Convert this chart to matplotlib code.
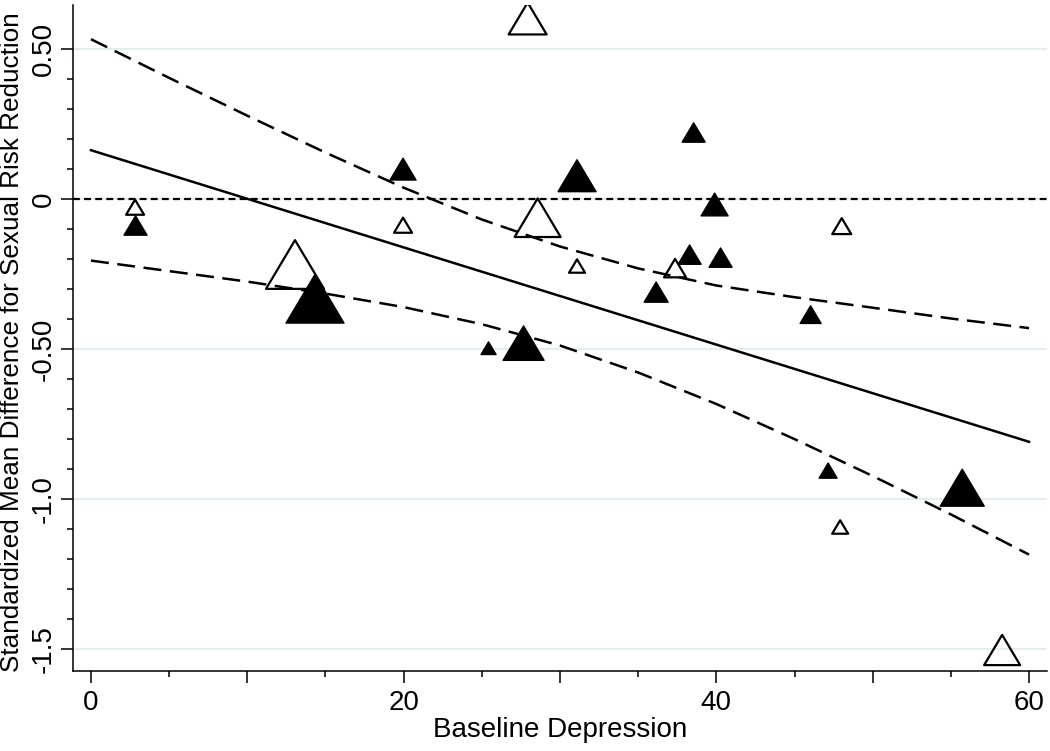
import numpy as np
import matplotlib.pyplot as plt
from matplotlib.path import Path
from matplotlib.ticker import FixedLocator, MultipleLocator

plt.rcParams["font.family"] = ["Liberation Sans", "DejaVu Sans"]

# ---------------------------------------------------------------------------
# Study-level data
# x = baseline depression, y = standardized mean difference, w = study weight
# ---------------------------------------------------------------------------
filled_x = [2.85, 14.33, 19.96, 38.55, 31.09, 39.89, 38.29, 40.27, 36.15,
            46.03, 27.67, 25.43, 47.15, 55.73]
filled_y = [-0.088, -0.332, 0.100, 0.222, 0.078, -0.018, -0.185, -0.195,
            -0.310, -0.385, -0.480, -0.497, -0.905, -0.962]
filled_w = [25, 60, 28, 25, 40, 29, 25, 25, 26, 23, 43, 17, 20, 46]

hollow_x = [27.93, 2.82, 13.05, 19.96, 28.57, 48.02, 31.09, 37.36, 47.92, 58.28]
hollow_y = [0.602, -0.027, -0.218, -0.087, -0.062, -0.090, -0.223, -0.230,
            -1.093, -1.503]
hollow_w = [40, 20, 60, 20, 48, 21, 18, 24, 18, 38]

# fitted meta-regression line and 95% CI
fit_x = [0, 60]
fit_y = [0.163, -0.809]

ci_x = [0, 5, 10, 15, 20, 25, 30, 35, 40, 45, 50, 55, 60]
ci_upper = [0.533, 0.404, 0.278, 0.155, 0.038, -0.068, -0.158, -0.231,
            -0.288, -0.327, -0.362, -0.398, -0.430]
ci_lower = [-0.205, -0.240, -0.275, -0.315, -0.360, -0.417, -0.488, -0.578,
            -0.683, -0.800, -0.923, -1.051, -1.185]

y_ticks = [0.5, 0, -0.5, -1.0, -1.5]
y_ticklabels = ["0.50", "0", "-0.50", "-1.0", "-1.5"]
x_ticks = [0, 10, 20, 30, 40, 50, 60]
x_ticklabels = ["0", "", "20", "", "40", "", "60"]


def msize(w):
    # marker width in px -> scatter area in pt^2
    return ((np.asarray(w) - 2) / (100 / 72)) ** 2


tri = Path([(-1, -0.84), (1, -0.84), (0, 0.84), (-1, -0.84)], closed=True)

fig = plt.figure(figsize=(10.5, 7.51), dpi=100)
ax = fig.add_axes([73 / 1050, 80 / 751, 974 / 1050, 666 / 751])

ax.set_xlim(-1.15, 61.15)
ax.set_ylim(-1.573, 0.647)

# grid + reference line
ax.yaxis.grid(True, color="#e4edf1", lw=1.5)
ax.set_axisbelow(True)
ax.axhline(0, color="black", lw=1.6, dashes=(3.1, 1.9), zorder=2)

# fit and CI
ax.plot(fit_x, fit_y, color="black", lw=1.8, zorder=2)
ax.plot(ci_x, ci_upper, color="black", lw=1.8, dashes=(7.2, 3.4), zorder=2)
ax.plot(ci_x, ci_lower, color="black", lw=1.8, dashes=(7.2, 3.4), zorder=2)

# studies
ax.scatter(hollow_x, hollow_y, s=msize(hollow_w), marker=tri,
           facecolors="none", edgecolors="black", linewidths=1.6, zorder=3)
ax.scatter(filled_x, filled_y, s=msize(filled_w), marker=tri,
           facecolors="black", edgecolors="black", linewidths=1.0, zorder=4)

# axes styling
for side in ("top", "right"):
    ax.spines[side].set_visible(False)
for side in ("left", "bottom"):
    ax.spines[side].set_linewidth(1.1)

ax.xaxis.set_major_locator(FixedLocator(x_ticks))
ax.set_xticklabels(x_ticklabels)
ax.xaxis.set_minor_locator(MultipleLocator(5))
ax.yaxis.set_major_locator(FixedLocator(y_ticks))
ax.set_yticklabels(y_ticklabels, rotation=90, va="center")
ax.yaxis.set_minor_locator(FixedLocator(np.arange(-1.5, 0.55, 0.1)))

ax.tick_params(axis="both", which="major", labelsize=20, width=1.1, length=8.5,
               color="black")
ax.tick_params(axis="x", which="major", pad=5)
ax.tick_params(axis="y", which="major", pad=3)
ax.tick_params(axis="both", which="minor", width=1.1, length=4.5)

ax.set_xlabel("Baseline Depression", fontsize=20, labelpad=1)
ax.set_ylabel("Standardized Mean Difference for Sexual Risk Reduction",
              fontsize=18.8)
ax.yaxis.set_label_coords(-0.0503, 0.494)

fig.savefig("out.png", dpi=100)
